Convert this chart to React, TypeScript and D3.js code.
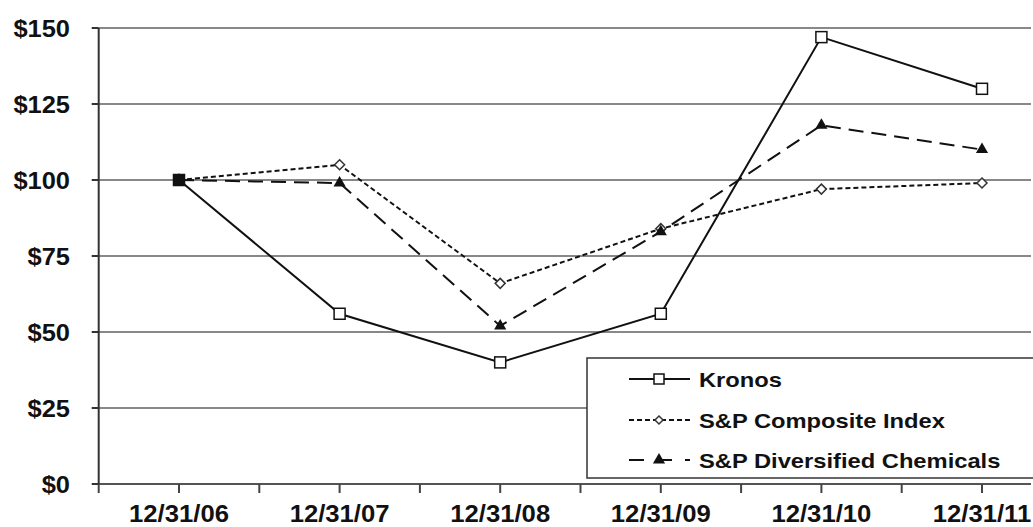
import React from "react";
import * as d3 from "d3";

const categories = ["12/31/06", "12/31/07", "12/31/08", "12/31/09", "12/31/10", "12/31/11"];
const kronos = [100, 56, 40, 56, 147, 130];
const composite = [100, 105, 66, 84, 97, 99];
const chemicals = [100, 99, 52, 83, 118, 110];
const yTicks = [0, 25, 50, 75, 100, 125, 150];
const legendLabels = ["Kronos", "S&P Composite Index", "S&P Diversified Chemicals"];

const W = 1033;
const H = 527;
const FONT = "'Liberation Sans', Arial, sans-serif";

export default function App() {
  const x = d3.scaleLinear().domain([0, categories.length - 1]).range([179, 982]);
  const y = d3.scaleLinear().domain([0, 150]).range([484, 28]);
  const xLeft = x(-0.5);
  const xTicks = d3.range(-0.5, categories.length + 0.5, 0.5);
  const line = d3
    .line<number>()
    .x((_, i) => x(i))
    .y((d) => y(d));

  const tri = d3.symbol().type(d3.symbolTriangle).size(64)()!;
  const dia = (cx: number, cy: number, r: number) =>
    `M${cx},${cy - r}L${cx + r},${cy}L${cx},${cy + r}L${cx - r},${cy}Z`;

  const legendX = 587;
  const legendRows = [379, 420, 460];

  return (
    <svg
      width={W}
      height={H}
      style={{ position: "absolute", left: 0, top: 0, background: "#fff" }}
    >
      {yTicks.map((t) => (
        <line
          key={"g" + t}
          x1={xLeft}
          x2={1031}
          y1={y(t)}
          y2={y(t)}
          stroke={t === 0 ? "#555" : "#888"}
          strokeWidth={2}
        />
      ))}
      <line x1={xLeft} x2={xLeft} y1={y(150)} y2={y(0)} stroke="#333" strokeWidth={2} />
      {yTicks.map((t) => (
        <line key={"yt" + t} x1={xLeft - 7} x2={xLeft} y1={y(t)} y2={y(t)} stroke="#333" strokeWidth={2} />
      ))}
      {yTicks.map((t) => (
        <text
          key={"yl" + t}
          transform={`translate(70,${y(t) + 8.5}) scale(1.06,1)`}
          textAnchor="end"
          fontFamily={FONT}
          fontWeight="bold"
          fontSize={24}
          fill="#111"
        >
          {"$" + t}
        </text>
      ))}
      {xTicks.map((t) => (
        <line key={"xt" + t} x1={x(t)} x2={x(t)} y1={y(0)} y2={y(0) + 9} stroke="#444" strokeWidth={2} />
      ))}
      {categories.map((c, i) => (
        <text
          key={c}
          transform={`translate(${x(i)},${y(0) + 38}) scale(1.07,1)`}
          textAnchor="middle"
          fontFamily={FONT}
          fontWeight="bold"
          fontSize={24}
          fill="#111"
        >
          {c}
        </text>
      ))}

      <path d={line(composite)!} fill="none" stroke="#111" strokeWidth={2} strokeDasharray="5,3" />
      <path d={line(chemicals)!} fill="none" stroke="#111" strokeWidth={2} strokeDasharray="15,8" />
      <path d={line(kronos)!} fill="none" stroke="#111" strokeWidth={2} />

      {composite.map((v, i) => (
        <path key={"cm" + i} d={dia(x(i), y(v), 5)} fill="#fff" stroke="#333" strokeWidth={1.5} />
      ))}
      {chemicals.map((v, i) => (
        <path key={"hm" + i} d={tri} transform={`translate(${x(i)},${y(v)})`} fill="#111" />
      ))}
      {kronos.map((v, i) => (
        <rect
          key={"km" + i}
          x={x(i) - 5.5}
          y={y(v) - 5.5}
          width={11}
          height={11}
          fill={i === 0 ? "#111" : "#fff"}
          stroke="#111"
          strokeWidth={1.5}
        />
      ))}

      <rect x={legendX} y={358} width={460} height={120} fill="#fff" stroke="#333" strokeWidth={1.5} />
      <line x1={629} x2={690} y1={legendRows[0]} y2={legendRows[0]} stroke="#111" strokeWidth={2} />
      <rect x={654} y={legendRows[0] - 5} width={10} height={10} fill="#fff" stroke="#111" strokeWidth={1.5} />
      <line x1={629} x2={690} y1={legendRows[1]} y2={legendRows[1]} stroke="#111" strokeWidth={2} strokeDasharray="5,3" />
      <path d={dia(659, legendRows[1], 4)} fill="#fff" stroke="#333" strokeWidth={1.5} />
      <line x1={629} x2={690} y1={legendRows[2]} y2={legendRows[2]} stroke="#111" strokeWidth={2} strokeDasharray="15,13" />
      <path d={tri} transform={`translate(659,${legendRows[2]})`} fill="#111" />
      {legendLabels.map((l, i) => (
        <text
          key={l}
          transform={`translate(699,${legendRows[i] + 7.5}) scale(1.13,1)`}
          fontFamily={FONT}
          fontWeight="bold"
          fontSize={21}
          fill="#111"
        >
          {l}
        </text>
      ))}
    </svg>
  );
}
